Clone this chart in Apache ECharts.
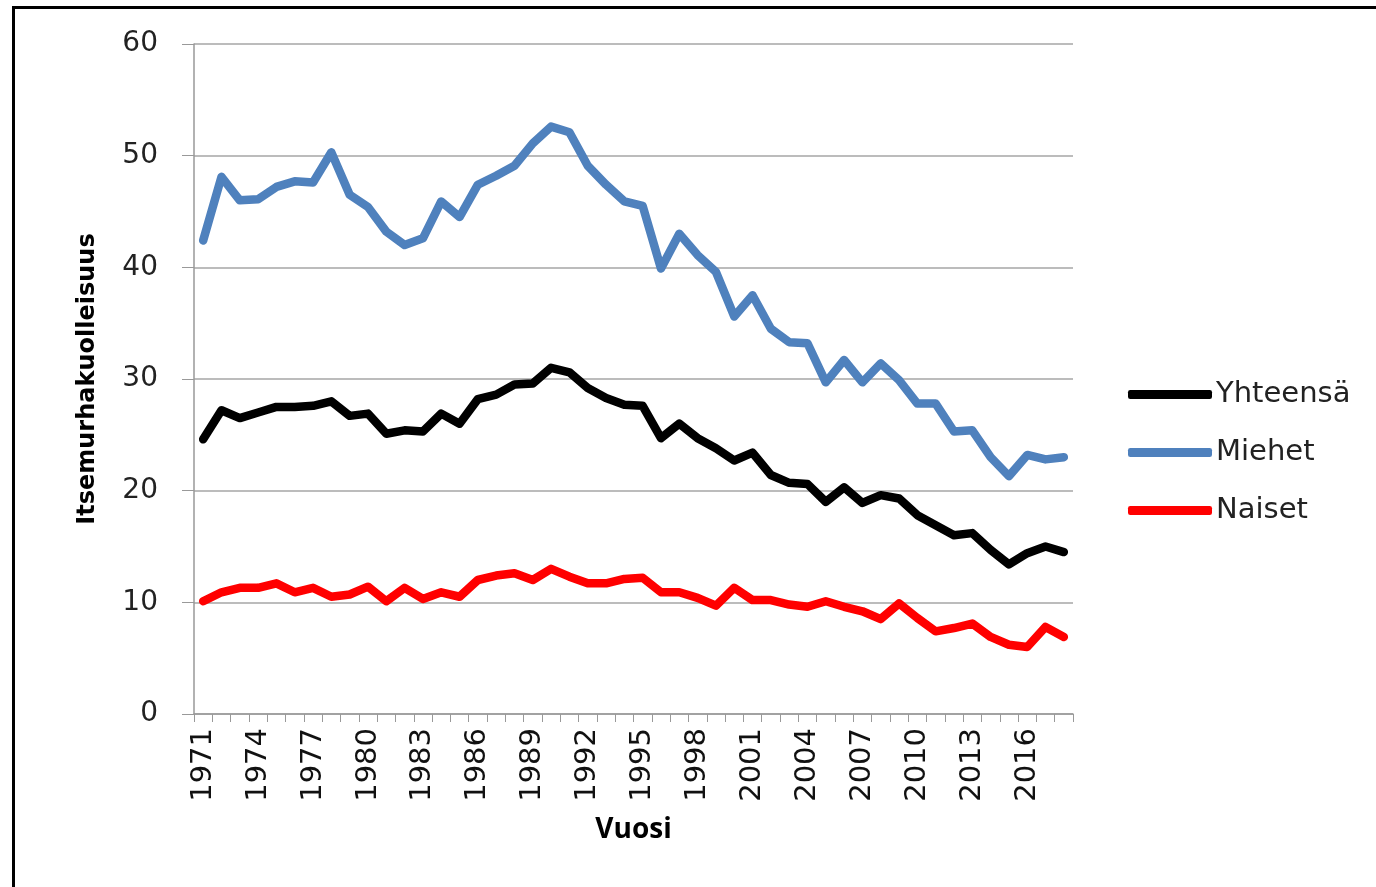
<!DOCTYPE html>
<html>
<head>
<meta charset="utf-8">
<script src="https://cdn.jsdelivr.net/npm/echarts@6/dist/echarts.min.js"></script>
<style>
html,body{margin:0;padding:0;background:#fff;}
#chart{width:1376px;height:887px;}
</style>
</head>
<body>
<div id="chart"></div>
<script>
const years = [];
for (let y = 1971; y <= 2018; y++) years.push(String(y));

const yhteensa = [24.6,27.2,26.5,27.0,27.5,27.5,27.6,28.0,26.7,26.9,25.1,25.4,25.3,26.9,26.0,28.2,28.6,29.5,29.6,31.0,30.6,29.2,28.3,27.7,27.6,
  24.7,26.0,24.7,23.8,22.7,23.4,21.4,20.7,20.6,19.0,20.3,18.9,19.6,19.3,17.8,16.9,16.0,16.2,14.7,13.4,14.4,15.0,14.5];
const miehet = [42.4,48.1,46.0,46.1,47.2,47.7,47.6,50.3,46.5,45.4,43.2,42.0,42.6,45.9,44.5,47.4,48.2,49.1,51.1,52.6,52.1,49.1,47.4,45.9,45.5,
  39.9,43.0,41.1,39.6,35.6,37.5,34.5,33.3,33.2,29.7,31.7,29.7,31.4,29.9,27.8,27.8,25.3,25.4,23.0,21.3,23.2,22.8,23.0];
const naiset = [10.1,10.9,11.3,11.3,11.7,10.9,11.3,10.5,10.7,11.4,10.1,11.3,10.3,10.9,10.5,12.0,12.4,12.6,12.0,13.0,12.3,11.7,11.7,12.1,12.2,
  10.9,10.9,10.4,9.7,11.3,10.2,10.2,9.8,9.6,10.1,9.6,9.2,8.5,9.9,8.6,7.4,7.7,8.1,6.9,6.2,6.0,7.8,6.9];

const seriesNames = ['Yhteensä','Miehet','Naiset'];
const seriesColors = ['#000000','#4F81BD','#FF0000'];
const seriesData = [yhteensa, miehet, naiset];

const font = 'DejaVu Sans';
const chart = echarts.init(document.getElementById('chart'), null, {renderer:'canvas'});
chart.setOption({
  animation:false,
  backgroundColor:'#ffffff',
  graphic:[{
    type:'rect', silent:true,
    shape:{x:13.5, y:7.5, width:1500, height:1000},
    style:{fill:'none', stroke:'#000', lineWidth:3}
  }],
  grid:{left:194, right:303, top:44, bottom:173, containLabel:false},
  legend:{
    orient:'vertical', left:1123, top:375,
    itemWidth:84, itemHeight:9, itemGap:29,
    icon:'roundRect',
    data:seriesNames,
    textStyle:{fontFamily:font, fontSize:29, color:'#222', padding:[0,0,0,-1]}
  },
  xAxis:{
    type:'category', data:years, boundaryGap:true,
    name:'Vuosi', nameLocation:'middle', nameGap:102,
    nameTextStyle:{fontFamily:'Open Sans', fontSize:28, fontWeight:'bold', color:'#000'},
    axisLine:{lineStyle:{color:'#999', width:1.5}},
    axisTick:{show:true, interval:0, length:8, alignWithLabel:false, lineStyle:{color:'#999'}},
    axisLabel:{interval:2, rotate:90, fontFamily:font, fontSize:29, color:'#111', margin:14},
    splitLine:{show:false}
  },
  yAxis:{
    type:'value', min:0, max:60, interval:10,
    name:'Itsemurhakuolleisuus', nameLocation:'middle', nameGap:94, nameRotate:90,
    nameTextStyle:{fontFamily:font, fontSize:24, fontWeight:'bold', color:'#000'},
    axisLine:{show:true, lineStyle:{color:'#999', width:1.5}},
    axisTick:{show:true, length:12, lineStyle:{color:'#999'}},
    axisLabel:{fontFamily:font, fontSize:28, color:'#222', margin:36},
    splitLine:{lineStyle:{color:'#a6a6a6', width:1.5}}
  },
  series: seriesNames.map((n,i)=>({
    name:n, type:'line', data:seriesData[i], symbol:'none',
    lineStyle:{color:seriesColors[i], width:8.5, cap:'round', join:'round'},
    itemStyle:{color:seriesColors[i]}
  }))
});
</script>
</body>
</html>
